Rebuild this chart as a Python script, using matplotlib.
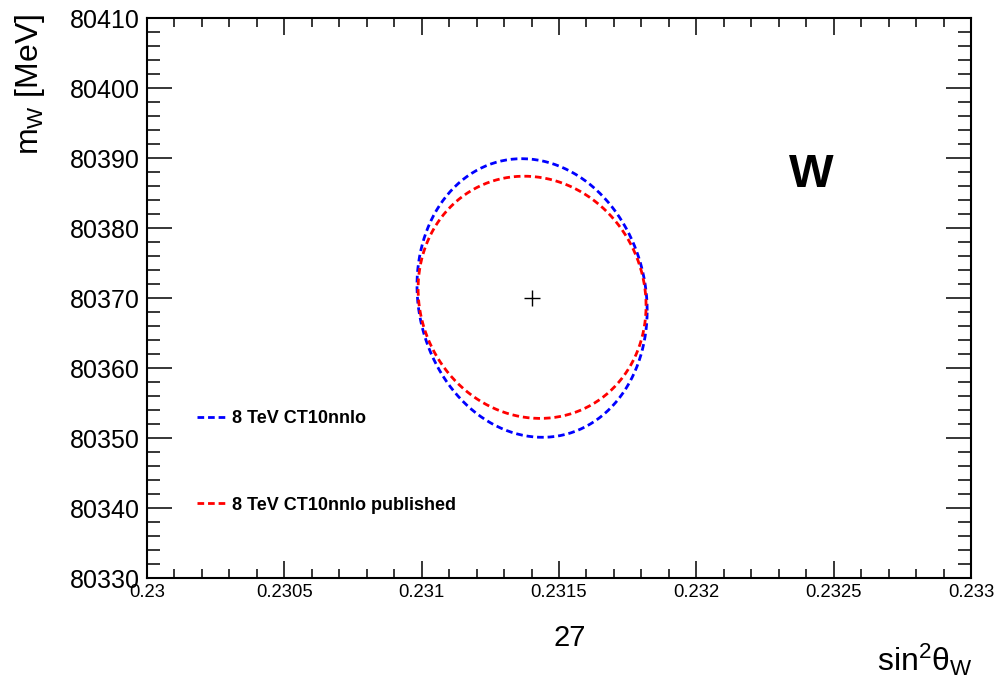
import numpy as np
import matplotlib
matplotlib.use("Agg")
import matplotlib.pyplot as plt
from matplotlib.ticker import MultipleLocator, FormatStrFormatter

plt.rcParams['font.family'] = ['Liberation Sans', 'DejaVu Sans']
plt.rcParams['mathtext.fontset'] = 'custom'
plt.rcParams['mathtext.rm'] = 'Liberation Sans'
plt.rcParams['mathtext.it'] = 'Liberation Sans'

# contour parameters (centre, half-widths, correlation)
names = ["8 TeV CT10nnlo", "8 TeV CT10nnlo published"]
colors = ["blue", "red"]
cx = [0.231402, 0.231402]
cy = [80370.0, 80370.1]
sx = [0.000419, 0.000415]
sy = [19.9, 17.3]
rho = [-0.09, -0.07]

# central value
best_x = 0.2314
best_y = 80370.0

fig = plt.figure(figsize=(9.94, 6.80), dpi=100)
ax = fig.add_axes([147/994, 1-578/680, (971-147)/994, (578-18)/680])

t = np.linspace(0, 2*np.pi, 400)
for i in range(len(names)):
    xs = cx[i] + sx[i]*np.cos(t)
    ys = cy[i] + sy[i]*(rho[i]*np.cos(t) + np.sqrt(1-rho[i]**2)*np.sin(t))
    ax.plot(xs, ys, color=colors[i], lw=2, linestyle=(0, (2.4, 1.4)), label=names[i])

ax.plot([best_x], [best_y], marker='+', color='black', ms=11, mew=1, ls='none')

ax.set_xlim(0.23, 0.233)
ax.set_ylim(80330, 80410)
ax.xaxis.set_major_locator(MultipleLocator(0.0005))
ax.xaxis.set_minor_locator(MultipleLocator(0.0001))
ax.yaxis.set_major_locator(MultipleLocator(10))
ax.yaxis.set_minor_locator(MultipleLocator(2))
ax.xaxis.set_major_formatter(FormatStrFormatter('%g'))
ax.yaxis.set_major_formatter(FormatStrFormatter('%d'))

ax.tick_params(axis='both', which='both', direction='in', top=True, right=True, width=1.1)
ax.tick_params(axis='y', which='major', length=18, labelsize=18, pad=5)
ax.tick_params(axis='y', which='minor', length=9.5)
ax.tick_params(axis='x', which='major', length=12, labelsize=13.3, pad=4)
ax.tick_params(axis='x', which='minor', length=6.5)
for s in ax.spines.values():
    s.set_linewidth(1.5)

fig.text(30/994, 1-14/680, r'm$_{\mathregular{W}}$ [MeV]', rotation=90,
         ha='center', va='top', fontsize=23)
fig.text(972/994, 1-678/680, r'sin$^{\mathregular{2}}\theta_{\mathregular{W}}$',
         ha='right', va='bottom', fontsize=23)
fig.text(570/994, 1-638/680, '27', ha='center', va='center', fontsize=21)

ax.text(0.23242, 80387.6, 'W', fontsize=34, fontweight='bold', ha='center', va='center')

leg = ax.legend(loc='upper left', bbox_to_anchor=(43/824, 1-(416-18-13)/560),
                frameon=False, handlelength=1.65, handletextpad=0.3,
                labelspacing=3.85, borderaxespad=0,
                prop={'weight': 'bold', 'size': 13})

fig.savefig("out.png", dpi=100)
